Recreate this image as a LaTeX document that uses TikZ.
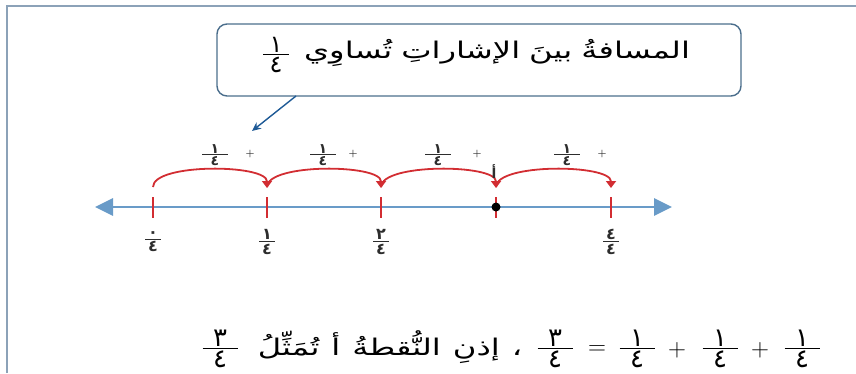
\documentclass[tikz,border=0pt]{standalone}
\usepackage{fontspec}
\usetikzlibrary{arrows.meta}
\TeXXeTstate=1
\newfontfamily\arabicfont[Script=Arabic]{DejaVu Sans}
\newfontfamily\arabicwide[Script=Arabic,FakeStretch=1.4]{DejaVu Sans}
% fraction: width, rule thickness, numerator, denominator
\newcommand\afr[4]{\vbox{\hbox to #1{\hfil #3\hfil}\kern1.2pt\hrule height #2\kern1.5pt\hbox to #1{\hfil #4\hfil}}}
\definecolor{framec}{RGB}{140,162,184}
\definecolor{boxc}{RGB}{75,110,140}
\definecolor{pointc}{RGB}{30,90,150}
\definecolor{linec}{RGB}{105,155,200}
\definecolor{jumpc}{RGB}{210,45,50}
\definecolor{labc}{RGB}{45,45,45}
\tikzset{
  calloutbox/.style={draw=boxc, line width=1.4pt, rounded corners=10pt, minimum width=524pt, minimum height=72pt, inner sep=0pt},
  pointer/.style={draw=pointc, line width=1.4pt, -{Stealth[length=9pt,width=8pt]}},
  numline/.style={draw=linec, line width=2.8pt, {Triangle[length=18pt,width=17pt]}-{Triangle[length=18pt,width=17pt]}},
  tickmark/.style={draw=jumpc, line width=1.8pt},
  jump/.style={draw=jumpc, line width=1.8pt, -{Triangle[length=7pt,width=10pt]}},
  toplab/.style={font=\fontsize{14}{15}\bfseries\arabicfont, text=labc, inner sep=0pt},
  botlab/.style={font=\fontsize{16}{17}\bfseries\arabicfont, text=labc, inner sep=0pt},
  plussign/.style={font=\fontsize{10}{11}\bfseries, text=labc, inner sep=0pt},
  bigtext/.style={font=\fontsize{23}{27}\arabicwide, inner sep=0pt},
  eqfrac/.style={font=\fontsize{26}{28}\arabicfont, inner sep=0pt},
  eqsign/.style={font=\fontsize{24}{26}\selectfont, inner sep=0pt}
}
\begin{document}
\begin{tikzpicture}[x=1pt,y=-1pt]
\useasboundingbox (0,0) rectangle (856,373);
\draw[framec, line width=1.5pt] (7,373) -- (7,6) -- (856,6);
% callout
\node[calloutbox] (box) at (479,60) {};
\node[bigtext] (msg) at (497,53) {\spaceskip=9pt\beginR المسافةُ بينَ الإشاراتِ تُساوِي\endR};
\node[font=\fontsize{24}{26}\arabicfont, inner sep=0pt] (mfrac) at (276,55) {\afr{26pt}{1.1pt}{١}{٤}};
\coordinate (arrS) at (296,96);
\coordinate (arrE) at (252,131);
\draw[pointer] (arrS) -- (arrE);
% number line
\coordinate (L) at (95,207);
\coordinate (R) at (672,207);
\draw[numline] (L) -- (R);
\foreach \i/\x in {0/153,1/267,2/381,3/496,4/611} {
  \coordinate (t\i) at (\x,207);
  \draw[tickmark] ([yshift=10pt]t\i) -- ([yshift=-11pt]t\i);
}
\fill (t3) circle (4.5pt);
% jumps
\foreach \a/\b in {0/1,1/2,2/3,3/4} {
  \draw[jump] ([yshift=20pt]t\a) .. controls +(0,-24) and +(0,-24) .. ([yshift=19pt]t\b);
}
% top labels
\foreach \i/\x/\p in {1/215/250,2/323/353,3/438/477,4/567/602} {
  \node[toplab] (tf\i) at (\x,155) {\afr{26pt}{0.9pt}{١}{٤}};
  \node[plussign] (tp\i) at (\p,154) {+};
}
\node[toplab] (A) at (494,172) {أ};
% bottom labels
\node[botlab] (b0) at (153,242) {\afr{16pt}{1.1pt}{٠}{٤}};
\node[botlab] (b1) at (267,242) {\afr{16pt}{1.1pt}{١}{٤}};
\node[botlab] (b2) at (381,242) {\afr{16pt}{1.1pt}{٢}{٤}};
\node[botlab] (b4) at (611,242) {\afr{16pt}{1.1pt}{٤}{٤}};
% equation
\node[eqfrac] (e5) at (220,349) {\afr{35pt}{1.2pt}{٣}{٤}};
\node[bigtext] (phrase) at (390,347) {\spaceskip=12pt\beginR ، إذنِ النُّقطةُ أ تُمَثِّلُ\endR};
\node[eqfrac] (e4) at (555,349) {\afr{35pt}{1.2pt}{٣}{٤}};
\node[eqsign] (eqs) at (597,350) {$=$};
\node[eqfrac] (e3) at (637,349) {\afr{35pt}{1.2pt}{١}{٤}};
\node[eqsign] (p2) at (677,350) {$+$};
\node[eqfrac] (e2) at (720,349) {\afr{35pt}{1.2pt}{١}{٤}};
\node[eqsign] (p1) at (760,350) {$+$};
\node[eqfrac] (e1) at (802,349) {\afr{35pt}{1.2pt}{١}{٤}};
\end{tikzpicture}
\end{document}
